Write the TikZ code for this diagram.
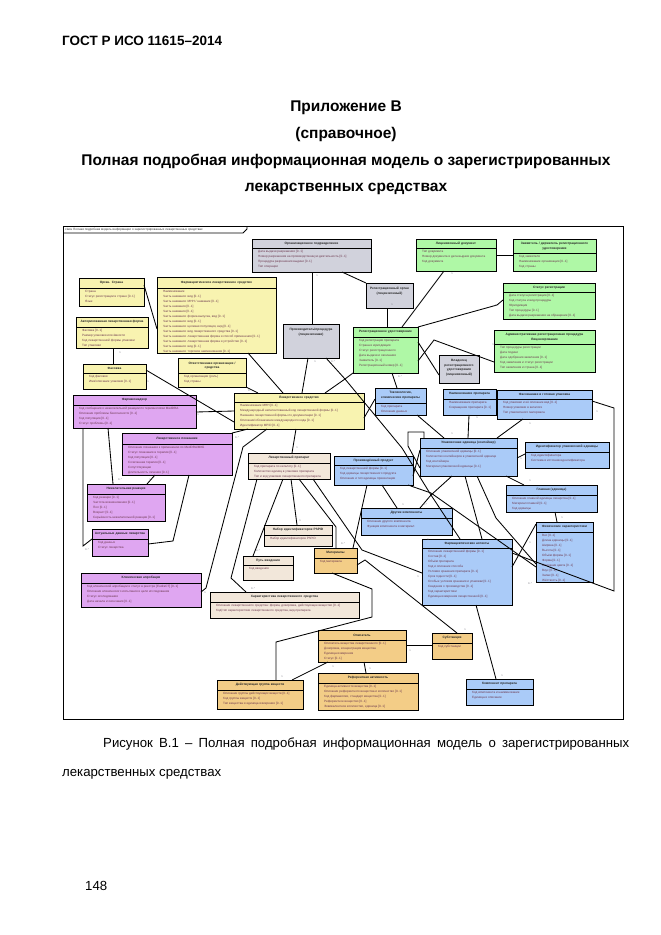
\documentclass[tikz,border=0pt]{standalone}
\usepackage{fontspec}
\setmainfont{Liberation Sans}
\usetikzlibrary{shadows}
\definecolor{clsyellow}{HTML}{F8F3B0}
\definecolor{clspurple}{HTML}{DFA6F1}
\definecolor{clsgreen}{HTML}{AFF8A6}
\definecolor{clsblue}{HTML}{AACBF8}
\definecolor{clsgrey}{HTML}{D1D2DC}
\definecolor{clsbeige}{HTML}{F2E7DA}
\definecolor{clsorange}{HTML}{F3CD87}
\definecolor{clsshadow}{HTML}{C9CADD}
\definecolor{attrtext}{HTML}{6E3A50}
\tikzset{
  classbox/.style={draw=black, line width=1pt, anchor=north west, inner sep=0pt, outer sep=0pt,
    drop shadow={shadow xshift=1.3pt, shadow yshift=-1.3pt, fill=clsshadow, opacity=1}},
  classtitle/.style={inner sep=0pt, align=center, text=black!85, font=\bfseries\fontsize{3.2}{4.6}\selectfont},
  classattr/.style={inner sep=0pt, anchor=north west, align=left, text=attrtext, font=\fontsize{3.1}{5}\selectfont},
  assoc/.style={line width=0.85pt},
  multlabel/.style={inner sep=0pt, text=black!45!clsshadow, font=\fontsize{2.6}{3}\selectfont},
  pagehead/.style={inner sep=0pt, font=\bfseries\fontsize{13.5}{16}\selectfont},
  pagetitle/.style={inner sep=0pt, font=\bfseries\fontsize{15.5}{18}\selectfont},
  pagetext/.style={inner sep=0pt, font=\fontsize{13.2}{15}\selectfont}
}
% name, x0, y0, x1, y1, ybar, colour, title, lines
\newcommand{\umlclass}[9]{
  \node[classbox, fill=#7, minimum width={(#4-#2)*1pt}, minimum height={(#5-#3)*1pt}] (#1) at (#2,#3) {};
  \draw[line width=0.9pt] (#2,#6) -- (#4,#6);
  \node[classtitle, text width={(#4-#2-4)*1pt}] (#1t) at ({(#2+#4)/2},{(#3+#6)/2}) {#8};
  \node[classattr] (#1a) at (#2+6,#6+2) {#9};
}
% name, x0, y0, x1, y1, colour, title
\newcommand{\umlnote}[7]{
  \node[classbox, fill=#6, minimum width={(#4-#2)*1pt}, minimum height={(#5-#3)*1pt}] (#1) at (#2,#3) {};
  \node[classtitle, text width={(#4-#2-4)*1pt}, anchor=north] (#1t) at ({(#2+#4)/2},#3+4) {#7};
}
\begin{document}
\begin{tikzpicture}[x=1pt,y=-1pt]
\useasboundingbox (0,0) rectangle (661,935);
% page text
\node[pagehead, anchor=west] (gost) at (62,41) {ГОСТ Р ИСО 11615–2014};
\node[pagetitle] (annex) at (346,107.5) {Приложение В};
\node[pagetitle] (annexkind) at (346,134.5) {(справочное)};
\node[pagetitle] (annextitlea) at (346,161.5) {Полная подробная информационная модель о зарегистрированных};
\node[pagetitle] (annextitleb) at (346,188.5) {лекарственных средствах};
\node[pagetext, anchor=west] (captiona) at (103,744.5) {\makebox[526pt][s]{Рисунок В.1 – Полная подробная информационная модель о зарегистрированных}};
\node[pagetext, anchor=west] (captionb) at (62,774.5) {лекарственных средствах};
\node[pagetext, anchor=west] (pagenum) at (85,886) {148};
% frame
\node[draw=black, line width=1pt, anchor=north west, inner sep=0pt, minimum width=560pt, minimum height=493pt] (frame) at (63,226) {};
\draw[line width=0.8pt] (63,233) -- (243,233) -- (247,229) -- (247,226);
\node[anchor=west, inner sep=0pt, text=black!80, font=\fontsize{3.1}{4}\selectfont] (frametitle) at (65,229.7) {class Полная подробная модель информации о зарегистрированных лекарственных средствах};
% yellow classes
\umlclass{country}{79}{278}{144}{306}{288}{clsyellow}{Орган. Страна}{Страна\\Статус регистрации в стране [0..1]\\Язык}
\umlclass{pharmprod}{157}{277}{276}{353}{288}{clsyellow}{Фармацевтическое лекарственное средство}{Наименование\\Часть названия: вид [0..1]\\Часть названия: МНН / название [0..1]\\Часть названия [0..1]\\Часть названия [0..1]\\Часть названия: форма выпуска, вид [0..1]\\Часть названия: вид [0..1]\\Часть названия: целевая популяция, вид [0..1]\\Часть названия: вид лекарственного средства [0..1]\\Часть названия: лекарственная форма и способ применения [0..1]\\Часть названия: лекарственная форма и устройство [0..1]\\Часть названия: вид [0..1]\\Часть названия: торговое наименование [0..1]}
\umlclass{packitem}{76}{317}{148}{348}{327}{clsyellow}{Авторизованная лекарственная форма}{Фасовка [0..1]\\Размер упаковки или ёмкости\\Код лекарственной формы упаковки\\Тип упаковки}
\umlclass{packsize}{83}{364}{146}{389}{373}{clsyellow}{Фасовка}{Код фасовки\\Имя/описание упаковки [0..1]}
\umlclass{resporg}{178}{358}{246}{387}{373}{clsyellow}{Ответственная организация /\\средства}{Код организации (роль)\\Код страны}
\umlclass{medprod}{234}{393}{364}{429}{402}{clsyellow}{Лекарственное средство}{Наименование МНН [0..1]\\Международный непатентованный код лекарственной формы [0..1]\\Название лекарственной формы по документации [0..1]\\Описание/обозначение международного кода [0..1]\\Идентификатор MPID [0..1]}
% purple classes
\umlclass{pharmvig}{73}{395}{196}{428}{405}{clspurple}{Фармаконадзор}{Код сообщения о нежелательной реакции по терминологии MedDRA\\Описание проблемы безопасности [0..1]\\Код популяции [0..1]\\Статус проблемы [0..1]}
\umlclass{indic}{122}{433}{232}{475}{444}{clspurple}{Лекарственное показание}{Описание показания к применению по MedDRA/МКБ\\Статус показания в терапии [0..1]\\Код популяции [0..1]\\Сочетанная терапия [0..1]\\Сопутствующая\\Длительность лечения [0..1]}
\umlclass{advreact}{87}{484}{165}{521}{494}{clspurple}{Нежелательная реакция}{Код реакции [0..1]\\Частота возникновения [0..1]\\Пол [0..1]\\Возраст [0..1]\\Серьёзность нежелательной реакции [0..1]}
\umlclass{actdata}{92}{529}{148}{556}{539}{clspurple}{Актуальные данные лекарства}{Код данных\\Статус лекарства}
\umlclass{clintrial}{81}{573}{201}{607}{583}{clspurple}{Клиническая апробация}{Код клинической апробации и статус в реестре [EudraCT] [0..1]\\Описание клинического испытания и цели исследования\\Статус исследования\\Дата начала и окончания [0..1]}
% beige classes
\umlclass{medpack}{248}{453}{330}{479}{463}{clsbeige}{Лекарственный препарат}{Код препарата по каталогу [0..1]\\Количество единиц в упаковке препарата\\Тип и код упаковки лекарственного препарата}
\umlclass{phpid}{264}{525}{332}{546}{535}{clsbeige}{Набор идентификаторов PhPID}{Набор идентификаторов PhPID}
\umlclass{route}{243}{556}{293}{580}{565}{clsbeige}{Путь введения}{Код введения}
\umlclass{charact}{210}{592}{359}{618}{602}{clsbeige}{Характеристика лекарственного средства}{Описание лекарственного средства: форма, дозировка, действующее вещество [0..1]\\Код/тип характеристики лекарственного средства, вид препарата}
% orange classes
\umlclass{material}{314}{548}{357}{573}{558}{clsorange}{Материалы}{Код материала}
\umlclass{descr}{318}{630}{406}{662}{640}{clsorange}{Описатель}{Описатель вещества лекарственного [0..1]\\Дозировка, концентрация вещества\\Единица измерения\\Статус [0..1]}
\umlclass{subst}{432}{633}{472}{659}{643}{clsorange}{Субстанция}{Код субстанции}
\umlclass{grpleft}{217}{680}{303}{709}{690}{clsorange}{Действующая группа веществ}{Описание группы действующих веществ [0..1]\\Код группы веществ [0..1]\\Тип вещества и единица измерения [0..1]}
\umlclass{refstr}{318}{673}{418}{710}{683}{clsorange}{Референтная активность}{Единица активности вещества [0..1]\\Описание референтного вещества и количество [0..1]\\Код фармакопеи, стандарт вещества [0..1]\\Референтное вещество [0..1]\\Эквивалентное количество, единица [0..1]}
% green classes
\umlclass{regstat}{353}{327}{418}{373}{337}{clsgreen}{Регистрационное удостоверение}{Код регистрации препарата\\Страна и юрисдикция\\Статус регистрационного\\Дата выдачи и окончания\\Заявитель [0..1]\\Регистрационный номер [0..1]}
\umlclass{licence}{416}{239}{496}{271}{248}{clsgreen}{Лицензионный документ}{Тип документа\\Номер документа и дата выдачи документа\\Код документа}
\umlclass{marketing}{513}{239}{596}{271}{253}{clsgreen}{Заявитель / держатель регистрационного\\удостоверения}{Код заявителя\\Наименование организации [0..1]\\Код страны}
\umlclass{greenstat}{503}{283}{595}{319}{292}{clsgreen}{Статус регистрации}{Дата статуса регистрации [0..1]\\Код статуса и вид процедуры\\Юрисдикция\\Тип процедуры [0..1]\\Дата выдачи разрешения на обращение [0..1]}
\umlclass{greenproc}{494}{330}{595}{372}{344}{clsgreen}{Административная регистрационная процедура\\Лицензирование}{Тип процедуры регистрации\\Дата подачи\\Дата одобрения заявления [0..1]\\Код заявления и статус регистрации\\Тип заявления и страна [0..1]}
% grey classes
\umlclass{regorg}{252}{239}{371}{272}{248}{clsgrey}{Организационное подразделение}{Дата выдачи разрешения [0..1]\\Номер разрешения на производственную деятельность [0..1]\\Процедура разрешения выдачи [0..1]\\Тип операции}
\umlnote{mfrproc}{283}{324}{339}{358}{clsgrey}{Производитель/процедура\\(лицензионная)}
\umlnote{regnote}{366}{283}{413}{308}{clsgrey}{Регистрационный орган\\(лицензионный)}
\umlnote{gridnote}{439}{355}{479}{383}{clsgrey}{Владелец\\регистрационного\\удостоверения\\(лицензионный)}
% blue classes
\umlclass{bclin}{375}{388}{426}{415}{403}{clsblue}{Токсикология,\\клинические препараты}{Код препарата\\Описание данных}
\umlclass{bname}{443}{389}{496}{415}{399}{clsblue}{Наименование препарата}{Наименование препарата\\Сокращение препарата [0..1]}
\umlclass{bpack}{497}{390}{592}{419}{399}{clsblue}{Фасованная и готовая упаковка}{Код упаковки и её описание вид [0..1]\\Номер упаковки в каталоге\\Тип упаковочного материала}
\umlclass{bmain}{420}{438}{517}{476}{448}{clsblue}{Упаковочная единица (контейнер)}{Описание упаковочной единицы [0..1]\\Количество контейнеров в упаковочной единице\\Код контейнера\\Материал упаковочной единицы [0..1]}
\umlclass{bright}{525}{442}{609}{468}{452}{clsblue}{Идентификатор упаковочной единицы}{Код идентификатора\\Система и источник идентификатора}
\umlclass{bunit}{506}{485}{597}{512}{495}{clsblue}{Главная (единица)}{Описание главной единицы лекарства [0..1]\\Материал главной [0..1]\\Код единицы}
\umlclass{bprod}{334}{456}{413}{485}{465}{clsblue}{Произведённый продукт}{Код лекарственной формы [0..1]\\Код единицы лекарственного продукта\\Описание и тип единицы презентации}
\umlclass{bother}{361}{508}{452}{535}{518}{clsblue}{Другие компоненты}{Описание другого компонента\\Функция компонента и материал}
\umlclass{bpharm}{422}{539}{512}{605}{548}{clsblue}{Фармацевтические аспекты}{Описание лекарственной формы [0..1]\\Состав [0..1]\\Объём препарата\\Код и описание способа\\Условия хранения препарата [0..1]\\Срок годности [0..1]\\Особые условия хранения и упаковки [0..1]\\Сведения о производстве [0..1]\\Код характеристики\\Единица измерения лекарственной [0..1]}
\umlclass{bphys}{536}{522}{593}{582}{532}{clsblue}{Физические характеристики}{Вес [0..1]\\Длина единицы [0..1]\\Ширина [0..1]\\Высота [0..1]\\Объём формы [0..1]\\Форма [0..1]\\Описание цвета [0..1]\\Вкус [0..1]\\Запах [0..1]\\Жёсткость [0..1]}
\umlclass{compunit}{466}{679}{533}{705}{689}{clsblue}{Компонент препарата}{Код компонента и наименование\\Единица и описание}
% junction of the lines around the product box
\coordinate (hub) at (345,379);
% associations
\draw[assoc] ([yshift=7]country.east) -- ([yshift=-14]pharmprod.west);
\draw[assoc] ([xshift=1]packitem.south) -- ([xshift=-1.5]packsize.north);
\draw[assoc] ([yshift=6.5]packsize.east) -- ([yshift=-11]medprod.west);
\draw[assoc] ([xshift=31.5]pharmprod.south) -- ([xshift=-16]medprod.north);
\draw[assoc] (resporg.south east) -- ([xshift=-41]medprod.north);
\draw[assoc] ([xshift=-3]mfrproc.south) -- ([xshift=3]medprod.north);
\draw[assoc] ([xshift=0.5]regorg.south) -- ([xshift=1]mfrproc.north);
\draw[assoc] ([xshift=15]mfrproc.south) -- (hub);
\draw[assoc] ([xshift=26]medprod.north) -- (hub);
\draw[assoc] (regstat.south west) -- (hub);
\draw[assoc] (hub) -- (402,448) -- (431,495) -- ([xshift=-7]bpharm.north);
\draw[assoc] ([xshift=30.5]regorg.south) -- (regnote.north west);
\draw[assoc] ([xshift=-2.5]regnote.south) -- ([xshift=1.5]regstat.north);
\draw[assoc] ([xshift=16.5]regstat.north) -- ([xshift=-12]licence.south);
\draw[assoc] (licence.east) -- (marketing.west);
\draw[assoc] (regstat.north east) -- (497,305) -- ([yshift=1]greenstat.west);
\draw[assoc] ([yshift=-11]regstat.east) -- (434,340) -- ([yshift=-11]greenproc.west);
\draw[assoc] ([yshift=8]regstat.east) -- ([yshift=-6]gridnote.west);
\draw[assoc] ([xshift=6.5]regstat.south) -- ([xshift=-3.5]bclin.north);
\draw[assoc] ([yshift=-7]medprod.east) -- ([yshift=2.5]bclin.west);
\draw[assoc] ([xshift=16.5]bclin.south) -- ([xshift=-24.5]bmain.north);
\draw[assoc] ([xshift=-0.5]bname.south) -- ([xshift=-0.5]bmain.north);
\draw[assoc] ([xshift=-21.5]bpack.south) -- ([xshift=28.5]bmain.north);
\draw[assoc] ([yshift=3.5]bpack.east) -- (614,408) -- (614,591) -- ([yshift=19]bpharm.east);
\draw[assoc] ([yshift=-1]bmain.east) -- ([yshift=1]bright.west);
\draw[assoc] ([xshift=37.5]bmain.south) -- ([xshift=-27.5]bunit.north);
\draw[assoc] ([xshift=8.5]bmain.south) -- (496,518) -- ([yshift=-12]bphys.west);
\draw[assoc] ([xshift=-3.5]bmain.south) -- ([xshift=15]bpharm.north);
\draw[assoc] ([xshift=-16.5]bmain.south) -- (431,495) -- ([xshift=13.5]bother.north);
\draw[assoc] ([yshift=-5.5]bprod.east) -- ([yshift=7]bmain.west);
\draw[assoc] ([xshift=8.5]bprod.south) -- ([xshift=-9.5]bother.north);
\draw[assoc] ([xshift=-6.5]bprod.south) -- ([xshift=17.5]material.north);
\draw[assoc] ([xshift=34.5]bprod.south) -- (431,493) -- ([yshift=-15]bphys.west);
\draw[assoc] ([xshift=-44.5]bmain.north) -- (424,432) -- (408,432) -- (408,446) -- ([yshift=-11]bmain.west);
\draw[assoc] ([xshift=3.5]bunit.south) -- ([xshift=-7.5]bphys.north);
\draw[assoc] ([yshift=5]bpharm.east) -- ([yshift=28]bphys.west);
\draw[assoc] ([xshift=9]bpharm.south) -- ([xshift=-3.5]compunit.north);
\draw[assoc] ([yshift=1]descr.east) -- ([yshift=1]subst.west);
\draw[assoc] ([xshift=2]descr.south) -- ([xshift=-2]refstr.north);
\draw[assoc] ([yshift=-4.5]material.east) -- (365,560) -- ([xshift=5]subst.north);
\draw[assoc] ([xshift=24]medpack.south) -- (362,550) -- ([yshift=-1]bpharm.west);
\draw[assoc] ([xshift=-3.5]material.south) -- (372,589) -- (372,617) -- (276,642) -- ([xshift=16]grpleft.north);
\draw[assoc] ([xshift=-34]descr.south) -- ([xshift=32]grpleft.north);
\draw[assoc] ([xshift=-3]medprod.south) -- ([xshift=3]medpack.north);
\draw[assoc] ([xshift=-32]medprod.south) -- (243,447) -- (206,588) -- ([yshift=-2]clintrial.east);
\draw[assoc] (medprod.west) -- ([yshift=-0.5]pharmvig.east);
\draw[assoc] ([xshift=-51]medprod.south) -- (indic.north east);
\draw[assoc] ([xshift=-26.5]pharmvig.south) -- ([xshift=-13]advreact.north);
\draw[assoc] ([xshift=-51.5]pharmvig.south) -- (83,546) -- ([yshift=3.5]actdata.west);
\draw[assoc] ([xshift=-22]indic.south) -- ([xshift=21]advreact.north);
\draw[assoc] ([xshift=12]indic.south) -- (173,541) -- ([yshift=-1.5]actdata.east);
\draw[assoc] ([xshift=-32]medpack.south) -- (231,578) -- ([xshift=-38.5]charact.north);
\draw[assoc] ([xshift=-6]medpack.south) -- ([xshift=-15]route.north);
\draw[assoc] ([xshift=2]medpack.south) -- ([xshift=-1]phpid.north);
\draw[assoc] ([xshift=10]medpack.south) -- (336,527) -- ([xshift=0.5]material.north);
% multiplicities
\foreach \mx/\my/\mt [count=\mi] in {317/276/1, 120/353/1, 148/382/1, 250/391/0..*, 315/362/1, 333/362/0..*,
    392/305/1, 400/377/0..*, 497/306/0..*, 493/345/1, 452/274/1, 237/438/0..*, 297/448/1, 198/415/1,
    120/480/0..*, 150/480/1, 87/550/0..*, 258/551/0..*, 300/521/1, 343/544/0..*, 477/418/1, 530/424/1,
    452/434/1, 597/412/1, 521/459/1, 530/481/1, 562/518/1, 403/505/1, 425/505/0..*, 487/534/1, 530/543/1,
    428/540/1, 205/593/1, 253/589/0..*, 282/677/1, 333/667/1, 465/630/1, 410/651/1, 370/669/1, 502/676/1,
    418/577/1, 530/584/0..*}
  \node[multlabel] (mult\mi) at (\mx,\my) {\mt};
\end{tikzpicture}
\end{document}
